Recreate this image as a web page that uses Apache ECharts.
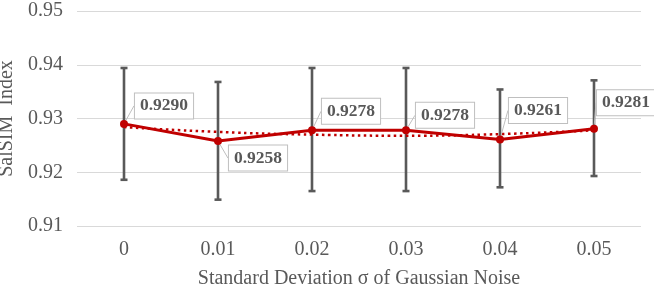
<!DOCTYPE html>
<html>
<head>
<meta charset="utf-8">
<script src="https://cdn.jsdelivr.net/npm/echarts@6/dist/echarts.min.js"></script>
<style>html,body{margin:0;padding:0;background:#fff}#c{width:654px;height:287px}</style>
</head>
<body>
<div id="c"></div>
<script>
var categories = ['0', '0.01', '0.02', '0.03', '0.04', '0.05'];
var meanValues = [0.9290, 0.9258, 0.9278, 0.9278, 0.9261, 0.9281];
var errorUp = [0.0104, 0.0110, 0.0116, 0.0116, 0.0093, 0.0090];
var errorDown = [0.0104, 0.0109, 0.0113, 0.0113, 0.0089, 0.0088];
var trendValues = [0.9284, 0.9275, 0.9270, 0.9268, 0.9271, 0.9278];
var labelTexts = ['0.9290', '0.9258', '0.9278', '0.9278', '0.9261', '0.9281'];
var labelOffsets = [[40, -18], [40, 17], [39, -19], [39, -15], [38, -29], [32, -26]];

var errorData = categories.map(function (c, i) {
  return [i, meanValues[i] + errorUp[i], meanValues[i] - errorDown[i]];
});

var FONT = '"Liberation Serif", "Times New Roman", serif';
var chart = echarts.init(document.getElementById('c'));
chart.setOption({
  animation: false,
  grid: { left: 77, right: 13, top: 11, bottom: 61, containLabel: false, outerBoundsMode: 'none' },
  xAxis: {
    type: 'category',
    data: categories,
    boundaryGap: true,
    axisLine: { show: false },
    axisTick: { show: false },
    axisLabel: { fontFamily: FONT, fontSize: 20, color: '#595959', margin: 14 },
    name: 'Standard Deviation σ of Gaussian Noise',
    nameLocation: 'middle',
    nameGap: 43,
    nameTextStyle: { fontFamily: FONT, fontSize: 20, color: '#595959' }
  },
  yAxis: {
    type: 'value',
    min: 0.91, max: 0.95, interval: 0.01,
    axisLine: { show: false },
    axisTick: { show: false },
    splitLine: { lineStyle: { color: '#d9d9d9', width: 1 } },
    axisLabel: { fontFamily: FONT, fontSize: 20, color: '#595959', margin: 14,
      formatter: function (v) { return v.toFixed(2); } },
    name: 'SalSIM  Index',
    nameLocation: 'middle',
    nameGap: 57,
    nameTextStyle: { fontFamily: FONT, fontSize: 20, color: '#595959' }
  },
  series: [
    {
      type: 'custom',
      data: errorData,
      z: 2,
      renderItem: function (params, api) {
        var x = api.value(0);
        var hi = api.coord([x, api.value(1)]);
        var lo = api.coord([x, api.value(2)]);
        var w = 3.5;
        var style = { stroke: '#595959', lineWidth: 2.6 };
        return {
          type: 'group',
          children: [
            { type: 'line', shape: { x1: hi[0], y1: hi[1], x2: lo[0], y2: lo[1] }, style: style },
            { type: 'line', shape: { x1: hi[0] - w, y1: hi[1], x2: hi[0] + w, y2: hi[1] }, style: style },
            { type: 'line', shape: { x1: lo[0] - w, y1: lo[1], x2: lo[0] + w, y2: lo[1] }, style: style }
          ]
        };
      }
    },
    {
      type: 'line',
      data: trendValues,
      smooth: true,
      symbol: 'none',
      z: 3,
      lineStyle: { color: '#C00000', width: 2.5, type: [2.5, 3.5] }
    },
    {
      type: 'line',
      data: meanValues,
      z: 4,
      symbol: 'circle',
      symbolSize: 8,
      itemStyle: { color: '#C00000' },
      lineStyle: { color: '#C00000', width: 3 },
      label: {
        show: true,
        position: 'inside',
        formatter: function (p) { return labelTexts[p.dataIndex]; },
        fontFamily: FONT,
        fontSize: 17.5,
        fontWeight: 'bold',
        color: '#595959',
        backgroundColor: '#ffffff',
        borderColor: '#bfbfbf',
        borderWidth: 1,
        padding: [4, 5, 3, 5]
      },
      labelLine: { show: true, lineStyle: { color: '#bfbfbf', width: 1 } },
      labelLayout: function (p) {
        var o = labelOffsets[p.dataIndex];
        return { dx: o[0], dy: o[1] };
      }
    }
  ]
});
</script>
</body>
</html>
